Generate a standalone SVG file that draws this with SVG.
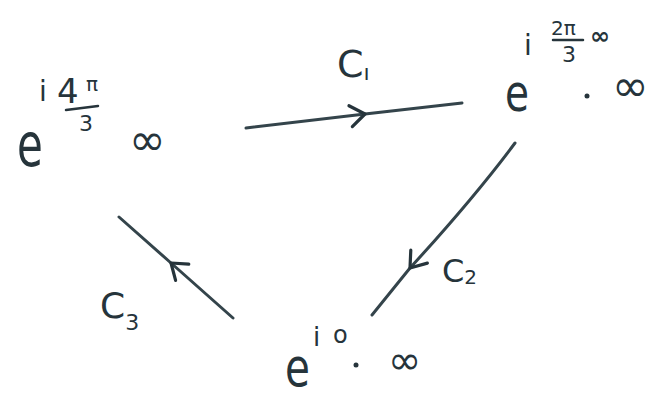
<svg xmlns="http://www.w3.org/2000/svg" width="662" height="403" viewBox="0 0 662 403">
<defs>
<style>
.t{font-family:"DejaVu Sans","Liberation Sans",sans-serif;fill:#26343b}
.ln{fill:none;stroke:#34444b;stroke-width:3;stroke-linecap:round;stroke-linejoin:round}
.bar{stroke:#26343b;stroke-width:2.5;stroke-linecap:round}
</style>
<marker id="chev" markerUnits="userSpaceOnUse" markerWidth="40" markerHeight="40" refX="20" refY="20" orient="auto" viewBox="0 0 40 40">
<path d="M5,10 L20,20 L6,31" fill="none" stroke="#26343b" stroke-width="3.2" stroke-linecap="round" stroke-linejoin="round"/>
</marker>
</defs>
<rect width="662" height="403" fill="#ffffff"/>
<g id="connectors">
<path id="c1" class="ln" d="M246,128 L365,114 L462,103" marker-mid="url(#chev)"/>
<path id="c2" class="ln" d="M515,143 Q474,198 410,268 L372,315" marker-mid="url(#chev)"/>
<path id="c3" class="ln" d="M233,318 L171,263 L119,217" marker-mid="url(#chev)"/>
<text class="t" x="337" y="77" font-size="38">C<tspan font-size="22" dy="3">ı</tspan></text>
<text class="t" x="442" y="282" font-size="32">C<tspan font-size="20" dy="2">2</tspan></text>
<text class="t" x="100" y="318" font-size="36">C<tspan font-size="22" dy="12">3</tspan></text>
</g>
<g id="node-left">
<text class="t" transform="translate(17,166) scale(0.7,1)" font-size="60">e</text>
<text class="t" x="39" y="101" font-size="28">i</text>
<text class="t" x="57" y="103" font-size="34">4</text>
<text class="t" x="86" y="91" font-size="20">π</text>
<line class="bar" x1="66" y1="110" x2="98" y2="106"/>
<text class="t" x="79" y="131" font-size="22">3</text>
<text class="t" x="129" y="155" font-size="44">∞</text>
</g>
<g id="node-right">
<text class="t" x="524" y="55" font-size="28">i</text>
<text class="t" x="551" y="35" font-size="20">2π</text>
<line class="bar" x1="553" y1="40" x2="583" y2="40"/>
<text class="t" x="562" y="62" font-size="22">3</text>
<text class="t" x="590" y="44" font-size="24" font-weight="bold">∞</text>
<text class="t" transform="translate(505,111) scale(0.75,1)" font-size="52">e</text>
<circle cx="587" cy="96" r="2.5" fill="#26343b"/>
<text class="t" x="612" y="101" font-size="44">∞</text>
</g>
<g id="node-bottom">
<text class="t" transform="translate(285,386) scale(0.75,1)" font-size="54">e</text>
<text class="t" x="313" y="346" font-size="26">i</text>
<text class="t" x="333" y="343" font-size="24">o</text>
<circle cx="356" cy="365" r="2.5" fill="#26343b"/>
<text class="t" x="388" y="374" font-size="40">∞</text>
</g>
</svg>
